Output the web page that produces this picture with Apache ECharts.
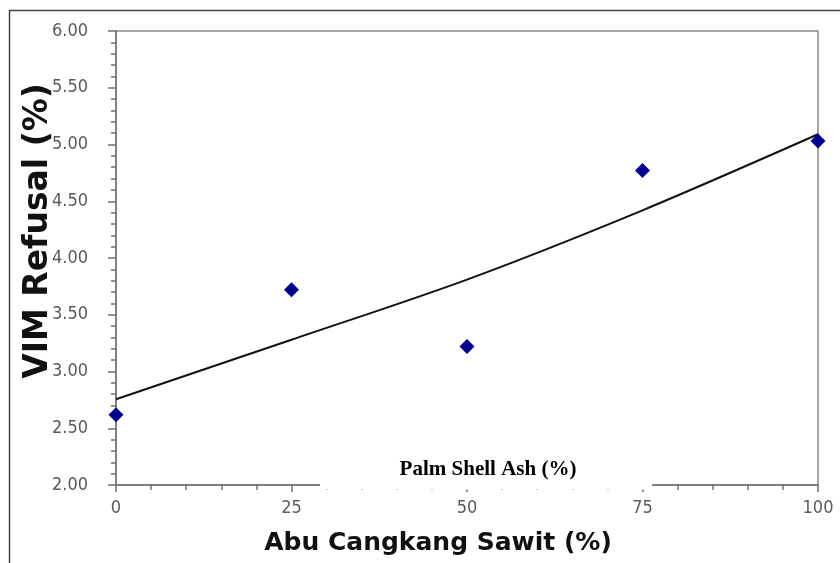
<!DOCTYPE html>
<html>
<head>
<meta charset="utf-8">
<script src="https://cdn.jsdelivr.net/npm/echarts@6/dist/echarts.min.js"></script>
<style>html,body{margin:0;padding:0;background:#fff;}#c{width:840px;height:563px;}</style>
</head>
<body>
<div id="c"></div>
<script>
// Data
const ashPercent = [0, 25, 50, 75, 100];
const vimRefusal = [2.62, 3.72, 3.22, 4.77, 5.03];
// Trendline as drawn in the reference (read at the same x positions)
const trendX = [0, 25, 50, 75, 100];
const trendY = [2.755, 3.28, 3.81, 4.42, 5.09];
const xTicks = [0, 25, 50, 75, 100];
const yTicks = [2.0, 2.5, 3.0, 3.5, 4.0, 4.5, 5.0, 5.5, 6.0];
const xTitle = 'Abu Cangkang Sawit (%)';
const yTitle = 'VIM Refusal (%)';
const overlayTitle = 'Palm Shell Ash (%)';

const chart = echarts.init(document.getElementById('c'));
const labelFont = { color: '#5a5a5a', fontFamily: '"DejaVu Sans Condensed", "DejaVu Sans"', fontSize: 18 };
chart.setOption({
  animation: false,
  backgroundColor: '#fff',
  grid: { left: 116, right: 22, top: 31, bottom: 78, outerBoundsMode: 'none', containLabel: false,
          show: true, borderColor: '#8c8c8c', borderWidth: 1.5 },
  xAxis: {
    type: 'value', min: xTicks[0], max: xTicks[xTicks.length - 1], interval: 25,
    axisLine: { lineStyle: { color: '#707070', width: 1.5 } },
    axisTick: { length: 7, lineStyle: { color: '#707070', width: 1.5 } },
    minorTick: { show: true, splitNumber: 5, length: 5, lineStyle: { color: '#707070', width: 1.5 } },
    splitLine: { show: false },
    axisLabel: Object.assign({ margin: 14 }, labelFont)
  },
  yAxis: {
    type: 'value', min: yTicks[0], max: yTicks[yTicks.length - 1], interval: 0.5,
    axisLine: { show: true, lineStyle: { color: '#707070', width: 1.5 } },
    axisTick: { show: true, length: 8, lineStyle: { color: '#707070', width: 1.5 } },
    minorTick: { show: true, splitNumber: 5, length: 5, lineStyle: { color: '#707070', width: 1.5 } },
    splitLine: { show: false },
    axisLabel: Object.assign({ margin: 28, formatter: v => v.toFixed(2) }, labelFont)
  },
  series: [
    {
      type: 'line', data: trendX.map((x, i) => [x, trendY[i]]), smooth: 0.3,
      showSymbol: false, symbol: 'none', lineStyle: { color: '#111', width: 2 }, z: 2
    },
    {
      type: 'scatter', data: ashPercent.map((x, i) => [x, vimRefusal[i]]),
      symbol: 'diamond', symbolSize: [15, 15], itemStyle: { color: '#00008b', opacity: 1 }, z: 3
    }
  ],
  graphic: [
    { type: 'polyline', shape: { points: [[9.5, 563], [9.5, 10.5], [840, 10.5]] }, style: { stroke: '#444', lineWidth: 1.5, fill: null }, z: 100 },
    { type: 'rect', shape: { x: 320, y: 448, width: 332, height: 41.5 }, style: { fill: '#fff' }, z: 100 },
    { type: 'text', x: 488, y: 470, style: { text: overlayTitle, font: 'bold 21px "Liberation Serif"', fill: '#000', align: 'center', verticalAlign: 'middle' }, z: 101 },
    { type: 'text', x: 438, y: 543, style: { text: xTitle, font: 'bold 25px "DejaVu Sans"', fill: '#111', align: 'center', verticalAlign: 'middle' }, z: 101 },
    { type: 'text', x: 38, y: 231, rotation: Math.PI / 2, style: { text: yTitle, font: 'bold 33px "DejaVu Sans"', fill: '#111', align: 'center', verticalAlign: 'middle' }, z: 101 }
  ]
});
</script>
</body>
</html>
